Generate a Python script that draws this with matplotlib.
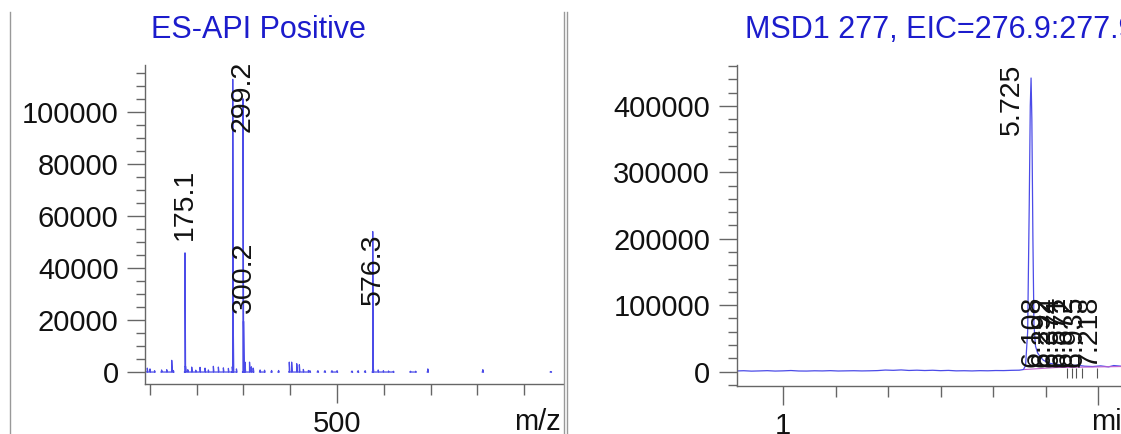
import numpy as np
import matplotlib
matplotlib.use('Agg')
import matplotlib.pyplot as plt
from matplotlib.lines import Line2D
from matplotlib.ticker import MultipleLocator, FixedLocator

plt.rcParams['font.family'] = ['Liberation Sans', 'DejaVu Sans']

# mass spectrum (m/z, abundance)
spec_mz = [94.5, 100.2, 110.0, 125.0, 136.0, 146.7, 150.2, 175.1, 176.1, 181.0,
           189.4, 198.0, 207.2, 217.9, 225.0, 235.7, 246.4, 257.1, 267.8, 276.1,
           277.1, 278.1, 285.0, 299.2, 300.2, 301.2, 303.4, 313.0, 317.0, 321.0,
           335.6, 345.0, 360.0, 375.0, 398.0, 403.0, 413.9, 419.5, 428.0, 438.8,
           442.0, 459.0, 474.0, 489.0, 500.0, 532.0, 545.0, 560.0, 576.3, 577.3,
           588.0, 599.0, 610.0, 620.5, 657.0, 668.0, 694.0, 811.6, 957.0]
spec_int = [1500, 1200, 500, 800, 900, 4500, 600, 45800, 2300, 900,
            1900, 700, 1800, 1500, 800, 2200, 1900, 1600, 1400, 2000,
            112500, 20500, 1200, 105000, 19500, 2500, 3800, 3800, 2000, 1500,
            800, 700, 600, 600, 3800, 3800, 3200, 2800, 1000, 600,
            500, 500, 500, 500, 500, 400, 500, 500, 54000, 2000,
            800, 500, 400, 300, 300, 300, 1200, 900, 200]

spec_labels = ['175.1', '299.2', '300.2', '576.3']
spec_label_mz = [175.1, 299.2, 300.2, 576.3]
spec_label_y = [50800, 92300, 22700, 25800]

# extracted ion chromatogram
rt = [0.10, 0.25, 0.40, 0.55, 0.70, 0.85, 1.00, 1.15, 1.30, 1.45, 1.60, 1.75,
      1.90, 2.05, 2.20, 2.35, 2.50, 2.65, 2.80, 2.95, 3.10, 3.25, 3.40, 3.55,
      3.70, 3.85, 4.00, 4.15, 4.30, 4.45, 4.60, 4.75, 4.90, 5.05, 5.20, 5.35,
      5.50, 5.58, 5.62, 5.66, 5.69, 5.71, 5.725, 5.74, 5.76, 5.78, 5.81, 5.85,
      5.90, 5.96, 6.03, 6.10, 6.20, 6.30, 6.45, 6.60, 6.75, 6.90, 7.05, 7.20,
      7.30, 7.44]
eic = [800, 1200, 600, 900, 1300, 700, 1000, 1500, 800, 700, 1100, 900,
       1300, 800, 1000, 1200, 900, 1100, 1400, 2200, 1800, 2400, 1600, 2000,
       1500, 1900, 1300, 1700, 1000, 1200, 900, 1300, 1100, 1500, 1400, 1800,
       2000, 3000, 9000, 60000, 250000, 400000, 442000, 380000, 200000, 70000,
       38000, 28000, 22000, 17000, 14000, 12000, 11000, 10000, 9000, 9500,
       8000, 7500, 8500, 7000, 9000, 8000]

rt_labels = ['6.108', '6.292', '6.374', '6.571', '6.672', '6.935', '7.218']
rt_marks = [6.40, 6.50, 6.59, 6.69, 6.98]

BLUE = '#4b4be8'
TITLE = '#1c1ccc'
GREY = '#666666'
FS = 21

fig = plt.figure(figsize=(11.21, 4.34), dpi=100)


def style_axes(ax):
    for s in ['top', 'right']:
        ax.spines[s].set_visible(False)
    for s in ['left', 'bottom']:
        ax.spines[s].set_color(GREY)
        ax.spines[s].set_linewidth(1.0)
    ax.tick_params(which='both', direction='out', color=GREY, width=1.0,
                   labelsize=FS, labelcolor='#111111')
    ax.tick_params(axis='y', which='major', length=13, pad=6)
    ax.tick_params(axis='y', which='minor', length=6.5)
    ax.tick_params(axis='x', which='major', length=14, pad=5)
    ax.tick_params(axis='x', which='minor', length=8)


# ---- left: spectrum
ax1 = fig.add_axes([145 / 1121, 50 / 434, 418 / 1121, 319 / 434])
style_axes(ax1)
order = np.argsort(spec_mz)
xs, ys = [], []
prev = None
for i in order:
    m, h = spec_mz[i], spec_int[i]
    if prev is not None and m - prev > 12:
        xs.append(np.nan)
        ys.append(np.nan)
    xs += [m - 1.2, m, m, m + 1.2]
    ys += [0, 0, h, 0]
    prev = m
ax1.plot(xs, ys, color=BLUE, lw=0.9)
for lab, m, y in zip(spec_labels, spec_label_mz, spec_label_y):
    ax1.text(m, y, lab, rotation=90, ha='center', va='bottom', fontsize=FS - 0.5,
             color='#111111')
ax1.set_xlim(89.6, 983)
ax1.set_ylim(-4600, 118000)
ax1.yaxis.set_major_locator(MultipleLocator(20000))
ax1.yaxis.set_minor_locator(FixedLocator(np.arange(0, 115001, 5000)))
ax1.xaxis.set_major_locator(FixedLocator([500]))
ax1.xaxis.set_minor_locator(FixedLocator(np.arange(100, 901, 100)))
ax1.set_yticklabels([str(int(v)) for v in ax1.get_yticks()])

# ---- right: EIC
ax2 = fig.add_axes([736.5 / 1121, 48 / 434, (1121 - 736.5) / 1121, 321 / 434])
style_axes(ax2)
ax2.plot(rt, eic, color=BLUE, lw=0.9)
ax2.plot([5.6, 6.2, 7.44], [3000, 6000, 7500], color='#c060d0', lw=0.8)
for lab, x in zip(['5.725'], [5.61]):
    ax2.text(x, 356000, lab, rotation=90, ha='right', va='bottom', fontsize=FS - 0.5,
             color='#111111')
for k, lab in enumerate(rt_labels):
    xb = [1045, 1055, 1063, 1070, 1077, 1087, 1102][k]
    ax2.text(1 + (xb - 783) / 52.5, 7000, lab, rotation=90, ha='right', va='bottom',
             fontsize=FS - 0.5, color='#111111')
ax2.vlines(rt_marks, -10000, 5000, color='#555555', lw=0.8)
ax2.set_xlim(0.114, 7.438)
ax2.set_ylim(-21800, 461600)
ax2.yaxis.set_major_locator(MultipleLocator(100000))
ax2.yaxis.set_minor_locator(FixedLocator(np.arange(-20000, 460001, 20000)))
ax2.xaxis.set_major_locator(FixedLocator([1, 7]))
ax2.xaxis.set_minor_locator(FixedLocator(np.arange(1, 8, 1)))
ax2.set_xticklabels(['1', ''])
ax2.set_yticklabels([str(int(v)) for v in ax2.get_yticks()])

# titles and axis names
fig.text(258 / 1121, 1 - 30 / 434, 'ES-API Positive', color=TITLE, fontsize=22,
         ha='center', va='center')
fig.text(745 / 1121, 1 - 30 / 434, 'MSD1 277, EIC=276.9:277.9', color=TITLE,
         fontsize=22, ha='left', va='center')
fig.text(561 / 1121, 1 - 422 / 434, 'm/z', fontsize=FS, ha='right', va='center',
         color='#111111')
fig.text(1091 / 1121, 1 - 422 / 434, 'min', fontsize=FS, ha='left', va='center',
         color='#111111')

# panel frame lines
for xp in [10, 563.5, 566.5]:
    fig.add_artist(Line2D([xp / 1121, xp / 1121], [0, 1 - 12 / 434], color='#999999',
                          lw=1.0))

fig.savefig('out.png', dpi=100)
